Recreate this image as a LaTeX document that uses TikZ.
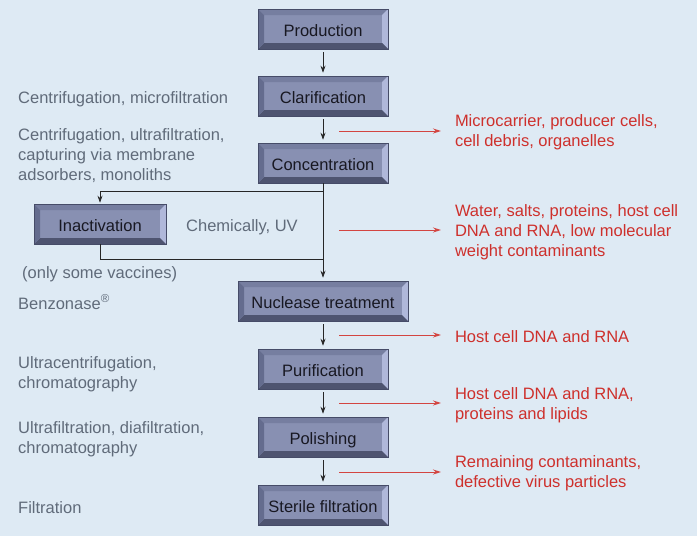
\documentclass[tikz,border=0pt]{standalone}
\usepackage{fontspec}
\setmainfont{Liberation Sans}
\usetikzlibrary{arrows.meta}
\definecolor{bgblue}{RGB}{222,234,244}
\definecolor{greytext}{RGB}{96,107,122}
\definecolor{redtext}{RGB}{206,48,44}
\definecolor{boxface}{RGB}{136,144,178}
\definecolor{boxedge}{RGB}{70,76,104}
\definecolor{bevtop}{RGB}{118,126,160}
\definecolor{bevleft}{RGB}{100,108,142}
\definecolor{bevright}{RGB}{176,184,218}
\definecolor{bevbot}{RGB}{78,84,112}
\newcommand{\labfont}{\fontsize{16.5}{20}\selectfont}

\begin{document}
\begin{tikzpicture}
                [x=1pt, y=-1pt,
                stage/.style={minimum width=130pt, minimum height=40pt, inner sep=0pt, fill=boxface, draw=boxedge, line width=0.6pt,
                    text height=15.5pt, text depth=0pt,
                    text={rgb,255:red,24;green,24;blue,34}, font=\labfont,
                    path picture={
                        \coordinate (nw) at (path picture bounding box.north west);
                        \coordinate (ne) at (path picture bounding box.north east);
                        \coordinate (sw) at (path picture bounding box.south west);
                        \coordinate (se) at (path picture bounding box.south east);
                        \fill[bevtop] (nw) -- (ne) -- ([shift={(-6pt,-6pt)}]ne) -- ([shift={(6pt,-6pt)}]nw) -- cycle;
                        \fill[bevright] (ne) -- (se) -- ([shift={(-6pt,6pt)}]se) -- ([shift={(-6pt,-6pt)}]ne) -- cycle;
                        \fill[bevbot] (se) -- (sw) -- ([shift={(6pt,6pt)}]sw) -- ([shift={(-6pt,6pt)}]se) -- cycle;
                        \fill[bevleft] (sw) -- (nw) -- ([shift={(6pt,-6pt)}]nw) -- ([shift={(6pt,6pt)}]sw) -- cycle;}},
                lsty/.style={anchor=west, inner sep=0pt, align=left, text=greytext, font=\labfont},
                rlab/.style={anchor=west, inner sep=0pt, outer sep=0pt, align=left, text=redtext, font=\labfont},
                asty/.style={-{Stealth[length=7pt, width=5pt]}, line width=0.8pt, black!85},
                xsty/.style={-{Stealth[length=8pt, width=5pt]}, line width=1pt, redtext!90, shorten >=14pt}]
                % background
                \fill[bgblue] (0,0) rectangle (697,536);
                \useasboundingbox (0,0) rectangle (697,536);
                % stages
                \node[stage] (prod) at (323,29)  {Production};
                \node[stage] (clar) at (323,96)  {Clarification};
                \node[stage] (conc) at (323,163) {Concentration};
                \node[stage, minimum width=132pt] (inac) at (100,224) {Inactivation};
                \node[stage, minimum width=170pt] (nucl) at (323,301) {Nuclease treatment};
                \node[stage] (puri) at (323,369) {Purification};
                \node[stage] (poli) at (323,437) {Polishing};
                \node[stage] (ster) at (323,505) {Sterile filtration};
                % methods
                \node[lsty] (m1) at (18,99)  {Centrifugation, microfiltration};
                \node[lsty] (m2) at (18,156) {Centrifugation, ultrafiltration,\\capturing via membrane\\adsorbers, monoliths};
                \node[lsty] (m3) at (186,227) {Chemically, UV};
                \node[lsty] (m4) at (22,274) {(only some vaccines)};
                \node[lsty] (m5) at (18,302) {Benzonase\textsuperscript{®}};
                \node[lsty] (m6) at (18,374) {Ultracentrifugation,\\chromatography};
                \node[lsty] (m7) at (18,439) {Ultrafiltration, diafiltration,\\chromatography};
                \node[lsty] (m8) at (18,508) {Filtration};
                % removed
                \node[rlab] (r1) at (455,132) {Microcarrier, producer cells,\\cell debris, organelles};
                \node[rlab] (r2) at (455,232) {Water, salts, proteins, host cell\\DNA and RNA, low molecular\\weight contaminants};
                \node[rlab] (r3) at (455,337) {Host cell DNA and RNA};
                \node[rlab] (r4) at (455,405) {Host cell DNA and RNA,\\proteins and lipids};
                \node[rlab] (r5) at (455,473) {Remaining contaminants,\\defective virus particles};
                \coordinate (o1) at (339,131);
                \coordinate (o2) at (339,230);
                \coordinate (o3) at (339,335);
                \coordinate (o4) at (339,403);
                \coordinate (o5) at (339,472);
                \coordinate (split) at (323,191);
                \coordinate (merge) at (323,259);
                % flow
                \draw[asty, shorten <=3pt, shorten >=3pt] (prod) -- (clar);
                \draw[asty, shorten <=3pt, shorten >=3pt] (clar) -- (conc);
                \draw[asty, shorten >=3pt] (conc) -- (nucl);
                \draw[asty, shorten >=1pt] (split) -| (inac);
                \draw[line width=0.8pt, black!85] (inac) |- (merge);
                \draw[asty, shorten <=3pt, shorten >=3pt] (nucl) -- (puri);
                \draw[asty, shorten <=3pt, shorten >=3pt] (puri) -- (poli);
                \draw[asty, shorten <=3pt, shorten >=3pt] (poli) -- (ster);
                \foreach \i in {1,...,5}
                    \draw[xsty] (o\i) -- (o\i -| r\i.west);
            \end{tikzpicture}
\end{document}
